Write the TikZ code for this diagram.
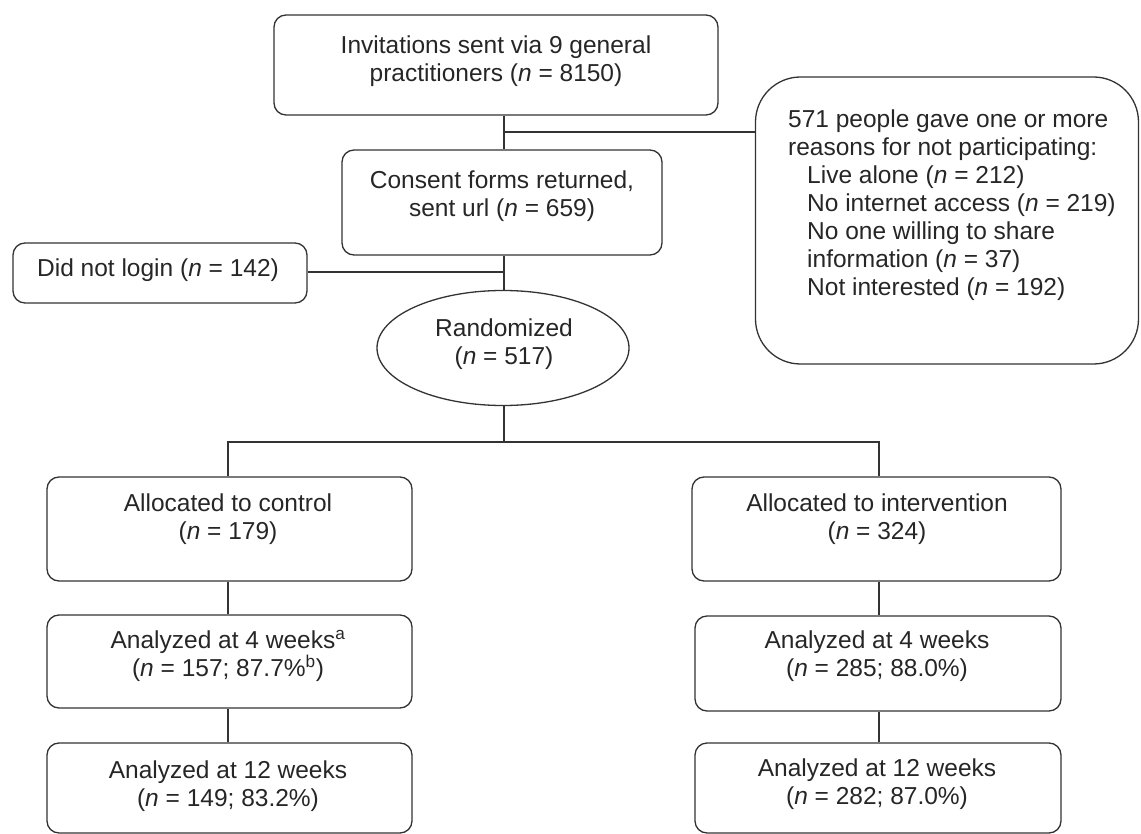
\documentclass[tikz,border=0pt]{standalone}
\usepackage{fontspec}
\setmainfont{Liberation Sans}
\usetikzlibrary{shapes.geometric}
\begin{document}
\begin{tikzpicture}[x=1pt,y=-1pt,
  line/.style={draw=black!80,line width=1.3pt},
  box/.style={line,rounded corners=12pt,rectangle,inner sep=0pt},
  txt/.style={align=center,inner sep=0pt,font=\fontsize{24.5}{28}\selectfont,text=black!85}]
\useasboundingbox (0,0) rectangle (1141,834);
% boxes
\node[box,minimum width=444,minimum height=100] (inv) at (496,65) {};
\node[box,minimum width=320,minimum height=105] (cons) at (502,202.5) {};
\node[box,minimum width=294,minimum height=60] (login) at (160,273) {};
\node[line,ellipse,minimum width=252,minimum height=115,inner sep=0pt] (rand) at (503,348) {};
\node[box,rounded corners=45pt,minimum width=383,minimum height=287] (why) at (947,220.5) {};
\node[box,minimum width=365,minimum height=104] (ctrl) at (229.5,529) {};
\node[box,minimum width=365,minimum height=93] (ctrlA) at (229.5,661.5) {};
\node[box,minimum width=365,minimum height=90] (ctrlB) at (229.5,788) {};
\node[box,minimum width=369,minimum height=104] (intv) at (876.5,529) {};
\node[box,minimum width=366,minimum height=95] (intvA) at (878,663.5) {};
\node[box,minimum width=366,minimum height=90] (intvB) at (878,788) {};
% texts
\node[txt] (invT) at (496,61) {Invitations sent via 9 general\\practitioners (\textit{n} = 8150)};
\node[txt] (consT) at (502,196) {Consent forms returned,\\sent url (\textit{n} = 659)};
\node[txt] (loginT) at (158,270) {Did not login (\textit{n} = 142)};
\node[txt] (randT) at (504,344) {Randomized\\(\textit{n} = 517)};
\node[txt,align=left,anchor=north west,font=\fontsize{24.5}{28}\selectfont] (whyT) at (788,110)
  {571 people gave one or more\\reasons for not participating:\\
   \hspace*{19pt}Live alone (\textit{n} = 212)\\
   \hspace*{19pt}No internet access (\textit{n} = 219)\\
   \hspace*{19pt}No one willing to share\\
   \hspace*{19pt}information (\textit{n} = 37)\\
   \hspace*{19pt}Not interested (\textit{n} = 192)};
\node[txt] (ctrlT) at (228,519) {Allocated to control\\(\textit{n} = 179)};
\node[txt] (ctrlAT) at (228,656) {Analyzed at 4 weeks\textsuperscript{a}\\(\textit{n} = 157; 87.7\%\textsuperscript{b})};
\node[txt] (ctrlBT) at (228,786) {Analyzed at 12 weeks\\(\textit{n} = 149; 83.2\%)};
\node[txt] (intvT) at (877,519) {Allocated to intervention\\(\textit{n} = 324)};
\node[txt] (intvAT) at (877,656) {Analyzed at 4 weeks\\(\textit{n} = 285; 88.0\%)};
\node[txt] (intvBT) at (877,784) {Analyzed at 12 weeks\\(\textit{n} = 282; 87.0\%)};
% connectors
\coordinate (j1) at (504,132);
\coordinate (j2) at (504,272);
\coordinate (j3) at (504,442);
\draw[line] (inv.south -| j1) -- (cons.north -| j1);
\draw[line] (j1) -- (j1 -| why.west);
\draw[line] (cons.south -| j1) -- (rand.north -| j1);
\draw[line] (login.east |- j2) -- (j2);
\draw[line] (rand.south -| j1) -- (j3);
\draw[line] (ctrl.north -| 228,0) -- (j3 -| 228,0) -- (j3 -| 879,0) -- (intv.north -| 879,0);
\draw[line] (ctrl.south -| 228,0) -- (ctrlA.north -| 228,0);
\draw[line] (ctrlA.south -| 228,0) -- (ctrlB.north -| 228,0);
\draw[line] (intv.south -| 879,0) -- (intvA.north -| 879,0);
\draw[line] (intvA.south -| 879,0) -- (intvB.north -| 879,0);
\end{tikzpicture}
\end{document}
